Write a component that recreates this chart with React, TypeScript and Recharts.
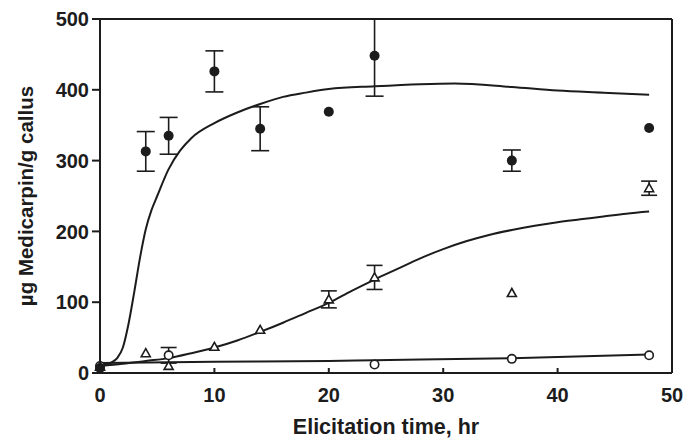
import {
  ComposedChart,
  Line,
  Scatter,
  ErrorBar,
  XAxis,
  YAxis,
  ReferenceLine,
} from 'recharts'

// measured points (hr, µg/g) with SE where the picture shows a bar
const filledTimes = [0, 4, 6, 10, 14, 20, 24, 36, 48]
const filledValues = [7, 313, 335, 426, 345, 369, 448, 300, 346]
// the 24 hr bar runs off the top of the frame, so its upper arm stops at 500
const filledErrors: (number | number[] | null)[] = [null, 28, 26, 29, 31, null, [57, 52], 15, null]

const triangleTimes = [0, 4, 6, 10, 14, 20, 24, 36, 48]
const triangleValues = [9, 28, 10, 37, 61, 104, 135, 113, 261]
const triangleErrors = [null, null, null, null, null, 12, 17, null, 10]

const openTimes = [0, 6, 24, 36, 48]
const openValues = [10, 25, 12, 20, 25]
const openErrors = [null, 11, null, null, null]

// fitted curves
const fitATimes = [0, 0.5, 1, 1.5, 2, 2.5, 3, 3.5, 4, 4.5, 5, 6, 7, 8, 10, 12, 14, 16, 18, 20, 24, 28, 31, 36, 40, 44, 48]
const fitAValues = [10, 12, 15, 21, 36, 70, 115, 163, 203, 230, 250, 288, 314, 332, 353, 368, 380, 390, 396, 401, 405, 408, 409, 404, 399, 396, 393]

const fitBTimes = [0, 2, 4, 6, 8, 10, 12, 14, 16, 18, 20, 22, 24, 26, 28, 30, 32, 34, 36, 38, 40, 42, 44, 46, 48]
const fitBValues = [10, 13, 17, 21, 28, 36, 46, 58, 71, 85, 99, 116, 132, 147, 162, 175, 186, 195, 202, 208, 213, 217, 221, 225, 228]

const fitCTimes = [0, 10, 20, 24, 36, 48]
const fitCValues = [14, 16, 17, 18, 21, 26]

const xTicks = [0, 10, 20, 30, 40, 50]
const yTicks = [0, 100, 200, 300, 400, 500]

const toRows = (xs: number[], ys: number[], errs?: (number | number[] | null)[]) =>
  xs.map((x, i) => ({ x, y: ys[i], err: errs ? errs[i] : null }))

const filled = toRows(filledTimes, filledValues, filledErrors)
const triangles = toRows(triangleTimes, triangleValues, triangleErrors)
const opens = toRows(openTimes, openValues, openErrors)
const fitA = toRows(fitATimes, fitAValues)
const fitB = toRows(fitBTimes, fitBValues)
const fitC = toRows(fitCTimes, fitCValues)

const INK = '#1c1c1c'
const FONT = '"Liberation Sans", Arial, sans-serif'

const FilledDot = (p: any) => <circle cx={p.cx} cy={p.cy} r={5} fill={INK} />
const OpenDot = (p: any) => (
  <circle cx={p.cx} cy={p.cy} r={4.2} fill="#fff" stroke={INK} strokeWidth={1.6} />
)
const OpenTriangle = (p: any) => (
  <path
    d={`M${p.cx},${p.cy - 4.5} L${p.cx + 4.5},${p.cy + 3.5} L${p.cx - 4.5},${p.cy + 3.5} Z`}
    fill="#fff"
    stroke={INK}
    strokeWidth={1.6}
  />
)

export default function App() {
  return (
    <div style={{ position: 'absolute', left: 0, top: 0, background: '#fff' }}>
      <ComposedChart
        width={698}
        height={441}
        margin={{ top: 19, right: 26, bottom: 0, left: 0 }}
        style={{ fontFamily: FONT }}
      >
        <XAxis
          type="number"
          dataKey="x"
          domain={[0, 50]}
          ticks={xTicks}
          height={68}
          stroke={INK}
          strokeWidth={2}
          tickSize={-5}
          tickMargin={20}
          tick={{ fontSize: 20, fontWeight: 'bold', fill: INK }}
          label={{
            value: 'Elicitation time, hr',
            position: 'insideBottom',
            offset: 7,
            style: { fontSize: 21.5, fontWeight: 'bold', fill: INK },
          }}
        />
        <YAxis
          type="number"
          dataKey="y"
          domain={[0, 500]}
          allowDataOverflow
          ticks={yTicks}
          width={100}
          stroke={INK}
          strokeWidth={2}
          tickSize={8}
          tickMargin={3}
          tick={{ fontSize: 20, fontWeight: 'bold', fill: INK }}
          label={{
            value: 'µg Medicarpin/g callus',
            angle: -90,
            position: 'insideLeft',
            offset: 26,
            style: { fontSize: 20.5, fontWeight: 'bold', fill: INK, textAnchor: 'middle' },
          }}
        />
        <ReferenceLine y={500} stroke={INK} strokeWidth={2} />
        <ReferenceLine x={50} stroke={INK} strokeWidth={2} />

        <Line data={fitA} dataKey="y" type="monotone" stroke={INK} strokeWidth={2} dot={false} isAnimationActive={false} />
        <Line data={fitB} dataKey="y" type="monotone" stroke={INK} strokeWidth={2} dot={false} isAnimationActive={false} />
        <Line data={fitC} dataKey="y" type="monotone" stroke={INK} strokeWidth={2} dot={false} isAnimationActive={false} />

        <Scatter data={opens} dataKey="y" shape={OpenDot} isAnimationActive={false}>
          <ErrorBar dataKey="err" direction="y" width={8} stroke={INK} strokeWidth={1.6} />
        </Scatter>
        <Scatter data={triangles} dataKey="y" shape={OpenTriangle} isAnimationActive={false}>
          <ErrorBar dataKey="err" direction="y" width={8} stroke={INK} strokeWidth={1.6} />
        </Scatter>
        <Scatter data={filled} dataKey="y" shape={FilledDot} isAnimationActive={false}>
          <ErrorBar dataKey="err" direction="y" width={9} stroke={INK} strokeWidth={1.6} />
        </Scatter>
      </ComposedChart>
    </div>
  )
}
